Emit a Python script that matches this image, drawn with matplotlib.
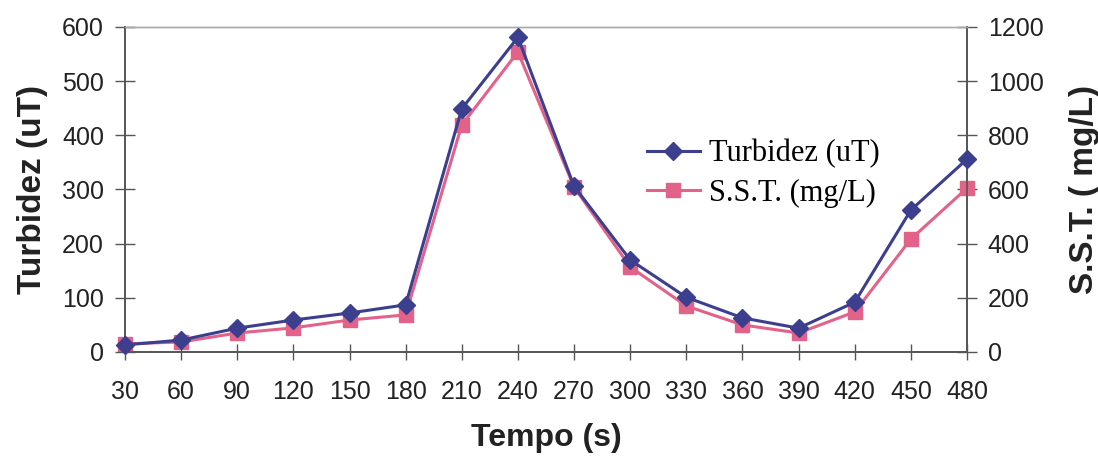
import matplotlib.pyplot as plt
from matplotlib.lines import Line2D

TEMPO = [30, 60, 90, 120, 150, 180, 210, 240, 270, 300, 330, 360, 390, 420, 450, 480]
TURBIDEZ = [13, 22, 44, 59, 72, 87, 449, 581, 306, 170, 101, 63, 44, 92, 262, 356]
SST = [30, 37, 70, 89, 118, 137, 838, 1108, 609, 314, 170, 100, 70, 148, 417, 605]

BLUE = "#3b3f8e"
PINK = "#e2628a"
AXIS_GRAY = "#555555"

fig = plt.figure(figsize=(10.98, 4.62), dpi=100)
ax = fig.add_axes([0.1138, 0.2381, 0.7669, 0.7035])
ax2 = ax.twinx()

ax.plot(TEMPO, TURBIDEZ, color=BLUE, lw=2.2, marker="D", ms=9,
        mfc=BLUE, mec=BLUE, zorder=3, clip_on=False)
ax2.plot(TEMPO, SST, color=PINK, lw=2.2, marker="s", ms=10,
         mfc=PINK, mec=PINK, zorder=3, clip_on=False)
ax.set_zorder(ax2.get_zorder() + 1)
ax.patch.set_visible(False)

ax.set_xlim(30, 480)
ax.set_ylim(0, 600)
ax2.set_ylim(0, 1200)
ax.set_xticks(TEMPO)
ax.set_yticks(range(0, 601, 100))
ax2.set_yticks(range(0, 1201, 200))

for lab in ax.get_xticklabels() + ax.get_yticklabels() + ax2.get_yticklabels():
    lab.set_fontfamily("Liberation Sans")
    lab.set_fontsize(18)
    lab.set_color("#222222")

ax.tick_params(axis="x", direction="inout", length=12, width=1, color=AXIS_GRAY, pad=14)
ax.tick_params(axis="y", direction="inout", length=14, width=1, color=AXIS_GRAY, pad=8)
ax2.tick_params(axis="y", direction="inout", length=14, width=1, color=AXIS_GRAY, pad=8)

for a in (ax, ax2):
    for side in ("left", "right", "bottom"):
        a.spines[side].set_color(AXIS_GRAY)
        a.spines[side].set_linewidth(1.2)
    a.spines["top"].set_color("#aaaaaa")
    a.spines["top"].set_linestyle((0, (2, 1)))
    a.spines["top"].set_linewidth(1)

ax.set_xlabel("Tempo (s)", fontfamily="Liberation Sans", fontweight="bold",
              fontsize=23, labelpad=14, color="#222222")
ax.set_ylabel("Turbidez (uT)", fontfamily="Liberation Sans", fontweight="bold",
              fontsize=24, labelpad=10, color="#222222")
ax2.set_ylabel("S.S.T. ( mg/L)", fontfamily="Liberation Sans", fontweight="bold",
               fontsize=24, labelpad=18, color="#222222", rotation=90)

handles = [
    Line2D([], [], color=BLUE, lw=2.2, marker="D", ms=9),
    Line2D([], [], color=PINK, lw=2.2, marker="s", ms=10),
]
ax.legend(handles, ["Turbidez (uT)", "S.S.T. (mg/L)"], loc="upper left",
          bbox_to_anchor=(0.587, 0.74), frameon=False,
          prop=dict(family="Liberation Serif", size=22),
          handlelength=1.75, handletextpad=0.3, labelspacing=0.35)

fig.savefig("out.png", dpi=100)
